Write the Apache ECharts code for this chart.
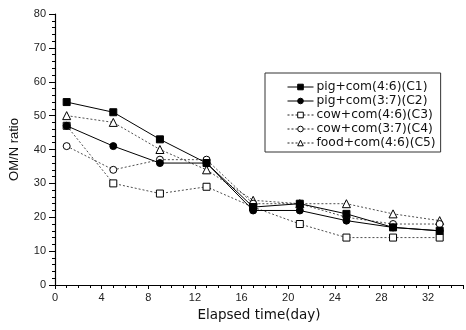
<!DOCTYPE html>
<html>
<head>
<meta charset="utf-8">
<script src="https://cdn.jsdelivr.net/npm/echarts@6/dist/echarts.min.js"></script>
<style>
html,body{margin:0;padding:0;background:#fff;}
#chart{width:466px;height:330px;}
</style>
</head>
<body>
<div id="chart"></div>
<script>
var days = [1, 5, 9, 13, 17, 21, 25, 29, 33];
var seriesNames = ['pig+com(4:6)(C1)', 'pig+com(3:7)(C2)', 'cow+com(4:6)(C3)', 'cow+com(3:7)(C4)', 'food+com(4:6)(C5)'];
var c1 = [54, 51, 43, 36, 23, 24, 21, 17, 16];
var c2 = [47, 41, 36, 36, 22, 22, 19, 17, 16];
var c3 = [47, 30, 27, 29, 23, 18, 14, 14, 14];
var c4 = [41, 34, 37, 37, 24, 24, 20, 18, 18];
var c5 = [50, 48, 40, 34, 25, 24, 24, 21, 19];
var xTicks = [0, 4, 8, 12, 16, 20, 24, 28, 32];
var yTicks = [0, 10, 20, 30, 40, 50, 60, 70, 80];

var allValues = [c1, c2, c3, c4, c5];
var symbols = ['rect', 'circle', 'rect', 'circle', 'triangle'];
var hollow = [false, false, true, true, true];

function pairs(vals) {
  return days.map(function (d, i) { return [d, vals[i]]; });
}

var series = allValues.map(function (vals, i) {
  return {
    name: seriesNames[i],
    type: 'line',
    xAxisIndex: 0,
    yAxisIndex: 0,
    data: pairs(vals),
    symbol: symbols[i],
    symbolSize: i === 4 ? 8 : 7,
    showAllSymbol: true,
    z: 10 - i,
    lineStyle: { color: hollow[i] ? '#222' : '#000', width: hollow[i] ? 0.8 : 1, type: hollow[i] ? [2, 2] : 'solid' },
    itemStyle: { color: hollow[i] ? '#fff' : '#000', borderColor: '#000', borderWidth: 1 },
    emphasis: { disabled: true },
    animation: false
  };
});

var chart = echarts.init(document.getElementById('chart'), null, { renderer: 'canvas' });
chart.setOption({
  backgroundColor: '#fff',
  animation: false,
  grid: { left: 54, top: 14, right: 0, bottom: 45, containLabel: false },
  legend: {
    orient: 'vertical',
    left: 265,
    top: 73,
    padding: [7, 5, 2, 22],
    itemWidth: 26,
    itemHeight: 7,
    itemGap: 0,
    borderColor: '#333',
    borderWidth: 1,
    selectedMode: false,
    data: seriesNames,
    itemStyle: { borderWidth: 1 },
    lineStyle: { width: 1 },
    textStyle: { fontFamily: 'DejaVu Sans', fontSize: 12.3, color: '#111', lineHeight: 14, padding: [0, 0, 0, -2] }
  },
  xAxis: [
    {
      type: 'value', min: 0, max: 35, interval: 4,
      name: 'Elapsed time(day)', nameLocation: 'middle', nameGap: 23,
      nameTextStyle: { fontFamily: 'DejaVu Sans', fontSize: 13.5, color: '#111' },
      axisLine: { show: true, onZero: false, lineStyle: { color: '#000', width: 1.2 } },
      axisTick: { show: true, length: 4, lineStyle: { color: '#000' } },
      axisLabel: {
        fontFamily: 'Liberation Sans', fontSize: 11, color: '#222', margin: 7,
        formatter: function (v) { return xTicks.indexOf(v) >= 0 ? String(v) : ''; }
      },
      splitLine: { show: false }
    },
    {
      type: 'value', min: 0, max: 35, interval: 1, position: 'bottom',
      axisLine: { show: false },
      axisTick: { show: true, length: 3, lineStyle: { color: '#000' } },
      axisLabel: { show: false },
      splitLine: { show: false }
    }
  ],
  yAxis: [
    {
      type: 'value', min: 0, max: 80, interval: 10,
      name: 'OM/N ratio', nameLocation: 'middle', nameGap: 34,
      nameTextStyle: { fontFamily: 'Liberation Sans', fontSize: 13, color: '#111' },
      axisLine: { show: true, onZero: false, lineStyle: { color: '#000', width: 1.2 } },
      axisTick: { show: true, length: 6, lineStyle: { color: '#000' } },
      axisLabel: {
        fontFamily: 'Liberation Sans', fontSize: 11, color: '#222', margin: 9,
        formatter: function (v) { return yTicks.indexOf(v) >= 0 ? String(v) : ''; }
      },
      splitLine: { show: false }
    },
    {
      type: 'value', min: 0, max: 80, interval: 2, position: 'left',
      axisLine: { show: false },
      axisTick: { show: true, length: 3, lineStyle: { color: '#000' } },
      axisLabel: { show: false },
      splitLine: { show: false }
    }
  ],
  series: series
});
</script>
</body>
</html>
